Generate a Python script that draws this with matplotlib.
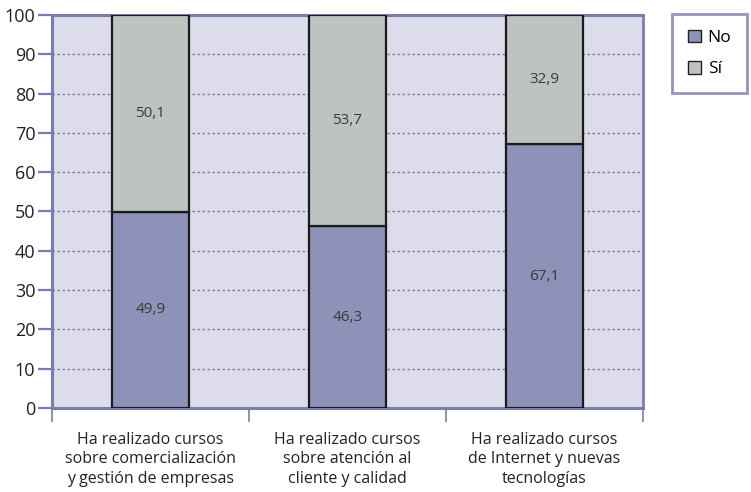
import matplotlib
matplotlib.use("Agg")
import matplotlib.pyplot as plt
from matplotlib.patches import Patch

categories = [
    "Ha realizado cursos\nsobre comercialización\ny gestión de empresas",
    "Ha realizado cursos\nsobre atención al\ncliente y calidad",
    "Ha realizado cursos\nde Internet y nuevas\ntecnologías",
]
no_vals = [49.9, 46.3, 67.1]
si_vals = [50.1, 53.7, 32.9]
series_names = ["No", "Sí"]

c_no = "#8e92b8"
c_si = "#bec3c2"
c_bg = "#dcdcea"
c_axis = "#7b7cae"

plt.rcParams["font.family"] = ["Open Sans", "DejaVu Sans"]

fig = plt.figure(figsize=(7.51, 4.92), dpi=100)
ax = fig.add_axes([52 / 751, 1 - 408 / 492, (643 - 52) / 751, (408 - 15) / 492])
ax.set_facecolor(c_bg)

x = list(range(len(categories)))
w = 0.395
ax.bar(x, no_vals, w, color=c_no, edgecolor="#1a1a1a", linewidth=1.6, zorder=3)
ax.bar(x, si_vals, w, bottom=no_vals, color=c_si, edgecolor="#1a1a1a", linewidth=1.6, zorder=3)

for xi, n, s in zip(x, no_vals, si_vals):
    ax.text(xi, n / 2, f"{n:.1f}".replace(".", ","), ha="center", va="center",
            fontsize=11, color="#3a3a3a", zorder=4)
    ax.text(xi, n + s / 2, f"{s:.1f}".replace(".", ","), ha="center", va="center",
            fontsize=11, color="#3a3a3a", zorder=4)

ax.set_xlim(-0.5, len(categories) - 0.5)
ax.set_ylim(0, 100)
ax.set_yticks(range(0, 101, 10))
ax.yaxis.grid(True, linestyle=(0, (1.8, 1.8)), color=c_axis, linewidth=1.0, zorder=1)
ax.set_axisbelow(True)

for side in ["left", "bottom", "top", "right"]:
    ax.spines[side].set_color(c_axis)
ax.spines["left"].set_linewidth(2.2)
ax.spines["bottom"].set_linewidth(2.2)
ax.spines["top"].set_linewidth(2.2)
ax.spines["right"].set_linewidth(2.0)

# category labels centered, ticks at category boundaries
ax.set_xticks(x)
ax.set_xticklabels(categories, fontsize=11.5, color="#222222", linespacing=1.3)
ax.tick_params(axis="x", length=0, pad=17)
ax.set_xticks([-0.5, 0.5, 1.5, 2.5], minor=True)
ax.tick_params(axis="x", which="minor", length=10, width=1.2, color=c_axis)
ax.tick_params(axis="y", length=10, width=1.6, color=c_axis, labelsize=13,
               labelcolor="#222222", pad=2)

handles = [Patch(facecolor=c_no, edgecolor="#222222", linewidth=1.0),
           Patch(facecolor=c_si, edgecolor="#222222", linewidth=1.0)]
leg = fig.legend(handles, series_names, loc="upper left",
                 bbox_to_anchor=(672 / 751, 1 - 14 / 492), fontsize=12.5,
                 frameon=True, fancybox=False, handlelength=0.75, handleheight=0.75,
                 handletextpad=0.4, borderpad=0.9, labelspacing=0.85, borderaxespad=0)
leg.get_frame().set_edgecolor(c_axis)
leg.get_frame().set_linewidth(2.0)

fig.savefig("out.png", dpi=100)
